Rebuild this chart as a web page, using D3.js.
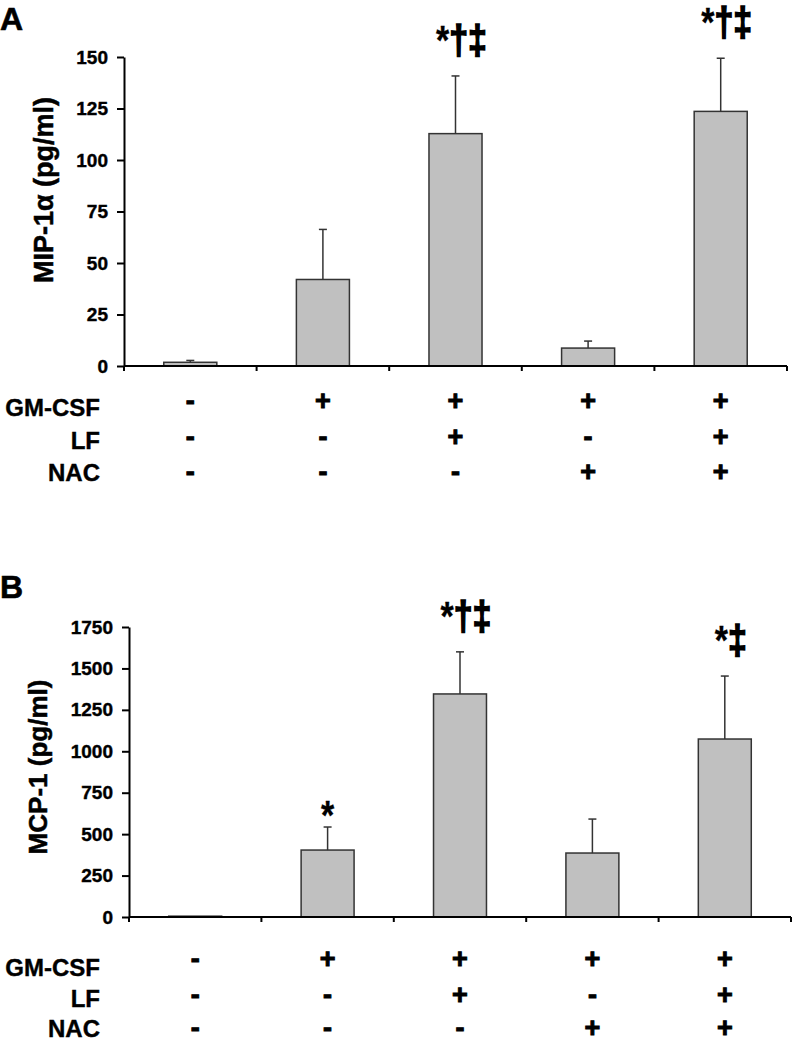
<!DOCTYPE html>
<html>
<head>
<meta charset="utf-8">
<script src="https://cdn.jsdelivr.net/npm/d3@7"></script>
<style>
  body { margin: 0; background: #fff; }
  svg { display: block; }
  text { font-family: "Liberation Sans", Arial, sans-serif; font-weight: bold; fill: #000; }
</style>
</head>
<body>
<div id="chart"></div>
<script>
// Treatment groups and their conditions
const groups = ["g1", "g2", "g3", "g4", "g5"];
const gmcsf = ["-", "+", "+", "+", "+"];
const lf = ["-", "-", "+", "-", "+"];
const nac = ["-", "-", "-", "+", "+"];
const rowNames = ["GM-CSF", "LF", "NAC"];

// Panel A: MIP-1alpha (pg/ml), mean and upper error
const mipValues = [1.8, 42, 112.8, 8.7, 123.6];
const mipErrors = [0.9, 24.3, 28, 3.4, 25.8];
const mipMarks = ["", "", "*†‡", "", "*†‡"];
const mipTicks = [0, 25, 50, 75, 100, 125, 150];

// Panel B: MCP-1 (pg/ml), mean and upper error
const mcpValues = [5, 404, 1346, 386, 1074];
const mcpErrors = [0, 139, 254, 205, 380];
const mcpMarks = ["", "*", "*†‡", "", "*‡"];
const mcpTicks = [0, 250, 500, 750, 1000, 1250, 1500, 1750];

const svg = d3.select("#chart")
  .append("svg")
  .attr("width", 792)
  .attr("height", 1043);

function drawPanel(cfg) {
  const g = svg.append("g");

  const x = d3.scaleBand()
    .domain(groups)
    .range([cfg.x0, cfg.x1])
    .paddingInner(0.6)
    .paddingOuter(0.3);

  const y = d3.scaleLinear()
    .domain([0, d3.max(cfg.ticks)])
    .range([cfg.yBottom, cfg.yTop]);

  // Panel letter
  g.append("text")
    .attr("x", 0)
    .attr("y", cfg.letterY)
    .style("font-size", "32px")
    .style("stroke", "#000")
    .style("stroke-width", "0.6px")
    .text(cfg.letter);

  // Bars
  g.selectAll(".bar")
    .data(cfg.values)
    .enter()
    .append("rect")
    .attr("x", (d, i) => x(groups[i]))
    .attr("y", d => y(d))
    .attr("width", x.bandwidth())
    .attr("height", d => y(0) - y(d))
    .style("fill", "#c0c0c0")
    .style("stroke", "#333")
    .style("stroke-width", "1.5px");

  // Error bars (upper only)
  const cx = i => x(groups[i]) + x.bandwidth() / 2;
  cfg.values.forEach((v, i) => {
    const e = cfg.errors[i];
    if (e <= 0) return;
    g.append("line")
      .attr("x1", cx(i)).attr("x2", cx(i))
      .attr("y1", y(v)).attr("y2", y(v + e))
      .style("stroke", "#333").style("stroke-width", "1.5px");
    g.append("line")
      .attr("x1", cx(i) - 4).attr("x2", cx(i) + 4)
      .attr("y1", y(v + e)).attr("y2", y(v + e))
      .style("stroke", "#333").style("stroke-width", "1.5px");
  });

  // Significance marks, stretched a little; daggers drawn heavier than the asterisk
  g.selectAll(".mark")
    .data(cfg.marks)
    .enter()
    .append("text")
    .attr("transform", (d, i) => {
      const tx = cx(i) + (d.length > 1 ? 6 : 0);
      const ty = y(cfg.values[i] + cfg.errors[i]) - (d.length > 1 ? 22 : -2);
      return `translate(${tx},${ty}) scale(1,1.2)`;
    })
    .attr("text-anchor", "middle")
    .style("font-size", "34px")
    .each(function (d) {
      const t = d3.select(this);
      Array.from(d).forEach(ch => {
        t.append("tspan")
          .style("stroke", "#000")
          .style("stroke-width", ch === "*" ? "0.3px" : "1.4px")
          .text(ch);
      });
    });

  // Y axis
  g.append("g")
    .attr("transform", `translate(${cfg.x0},0)`)
    .call(d3.axisLeft(y).tickValues(cfg.ticks).tickFormat(d3.format("d"))
      .tickSize(7).tickSizeOuter(0).tickPadding(9))
    .call(a => a.selectAll("path, line").style("stroke", "#000").style("stroke-width", "2px"))
    .call(a => a.selectAll("text")
      .style("font-size", "19px")
      .style("font-family", null)
      .style("stroke", "#000")
      .style("stroke-width", "0.4px"));

  // X axis with ticks at group boundaries
  g.append("line")
    .attr("x1", cfg.x0).attr("x2", cfg.x1)
    .attr("y1", y(0)).attr("y2", y(0))
    .style("stroke", "#000").style("stroke-width", "2px");
  g.selectAll(".xtick")
    .data(d3.range(groups.length + 1))
    .enter()
    .append("line")
    .attr("x1", i => cfg.x0 + i * x.step())
    .attr("x2", i => cfg.x0 + i * x.step())
    .attr("y1", y(0))
    .attr("y2", y(0) + 5)
    .style("stroke", "#000").style("stroke-width", "2px");

  // Y axis title
  g.append("text")
    .attr("transform", `translate(${cfg.titleX},${cfg.titleY}) rotate(-90)`)
    .attr("text-anchor", "middle")
    .style("font-size", cfg.titleSize + "px")
    .style("stroke", "#000")
    .style("stroke-width", "0.5px")
    .text(cfg.title);

  // Condition table
  [gmcsf, lf, nac].forEach((row, r) => {
    g.append("text")
      .attr("x", 100)
      .attr("y", cfg.rowY[r])
      .attr("text-anchor", "end")
      .style("font-size", "24px")
      .style("stroke", "#000")
      .style("stroke-width", "0.4px")
      .text(rowNames[r]);
    g.selectAll(".sign" + r)
      .data(row)
      .enter()
      .append("text")
      .attr("x", (d, i) => cx(i))
      .attr("y", cfg.signY[r])
      .attr("text-anchor", "middle")
      .style("font-size", "27px")
      .style("stroke", "#000")
      .style("stroke-width", "1px")
      .text(d => d);
  });
}

drawPanel({
  letter: "A", letterY: 30,
  title: "MIP-1α (pg/ml)", titleX: 53, titleY: 190, titleSize: 27,
  values: mipValues, errors: mipErrors, marks: mipMarks, ticks: mipTicks,
  x0: 124, x1: 787, yTop: 57, yBottom: 366,
  rowY: [416, 449, 481], signY: [410, 446, 481]
});

drawPanel({
  letter: "B", letterY: 598,
  title: "MCP-1 (pg/ml)", titleX: 47, titleY: 767, titleSize: 26,
  values: mcpValues, errors: mcpErrors, marks: mcpMarks, ticks: mcpTicks,
  x0: 129, x1: 791, yTop: 627, yBottom: 917,
  rowY: [976, 1007, 1037], signY: [968, 1004, 1037]
});
</script>
</body>
</html>
